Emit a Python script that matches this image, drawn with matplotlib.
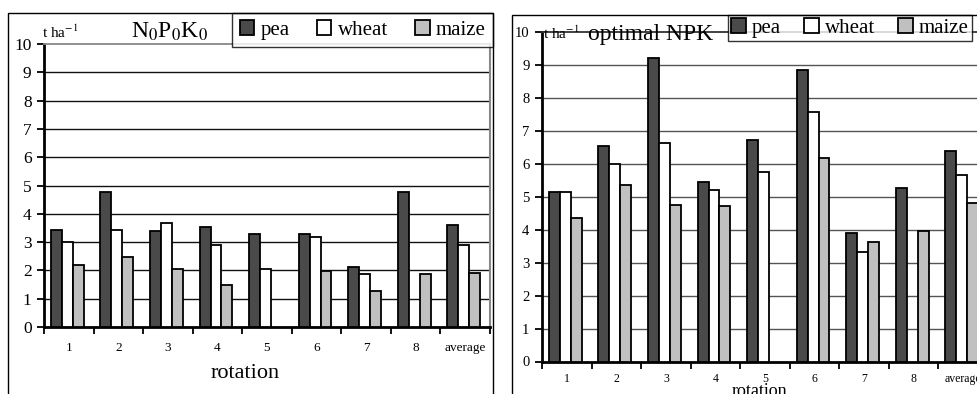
import numpy as np
import matplotlib
matplotlib.use("Agg")
import matplotlib.pyplot as plt
from matplotlib.patches import Rectangle

plt.rcParams['font.family'] = ['Liberation Serif', 'DejaVu Serif']
plt.rcParams['mathtext.fontset'] = 'stix'

rotations = ['1', '2', '3', '4', '5', '6', '7', '8', 'average']
crops = ['pea', 'wheat', 'maize']
colors = ['#4a4a4a', '#ffffff', '#c0c0c0']

# N0P0K0 yields, t/ha (nan = no bar)
pea_0 = [3.44, 4.77, 3.40, 3.55, 3.30, 3.30, 2.11, 4.77, 3.59]
wheat_0 = [3.00, 3.41, 3.67, 2.91, 2.04, 3.18, 1.87, np.nan, 2.88]
maize_0 = [2.19, 2.49, 2.05, 1.50, np.nan, 1.99, 1.28, 1.87, 1.92]

# optimal NPK yields, t/ha
pea_opt = [5.15, 6.53, 9.20, 5.46, 6.73, 8.84, 3.89, 5.27, 6.39]
wheat_opt = [5.15, 5.98, 6.64, 5.20, 5.74, 7.58, 3.33, np.nan, 5.66]
maize_opt = [4.37, 5.35, 4.74, 4.71, np.nan, 6.17, 3.64, 3.96, 4.82]

W, H = 978, 394
fig = plt.figure(figsize=(W / 100, H / 100), dpi=100)


def box(x0, y0, x1, y1):
    # pixel box -> figure fraction [left, bottom, width, height]
    return [x0 / W, 1 - y1 / H, (x1 - x0) / W, (y1 - y0) / H]


def draw_panel(ax, series, grid_col, top_col, ytick_size, xtick_size, xpad):
    offs = [0.25, 0.47, 0.69]
    idx = np.arange(len(rotations))
    for vals, col, off, name in zip(series, colors, offs, crops):
        ax.bar(idx + off, vals, width=0.22, color=col, edgecolor='black',
               linewidth=1.3, label=name, zorder=3)
    ax.set_xlim(0, len(rotations))
    ax.set_ylim(0, 10)
    ax.set_yticks(range(0, 11))
    ax.set_xticks(range(0, len(rotations) + 1))
    ax.set_xticklabels([])
    ax.set_xticks(idx + 0.5, minor=True)
    ax.set_xticklabels(rotations, minor=True, fontsize=xtick_size)
    ax.tick_params(axis='x', which='minor', length=0, pad=xpad)
    ax.tick_params(axis='x', which='major', length=5, width=1.3, direction='out')
    ax.tick_params(axis='y', length=5, width=1.3, direction='out',
                   labelsize=ytick_size, pad=4)
    for y in range(1, 10):
        ax.axhline(y, color=grid_col, lw=1.0, zorder=1)
    ax.spines['left'].set_linewidth(2)
    ax.spines['bottom'].set_linewidth(2)
    ax.spines['top'].set_color(top_col)
    ax.spines['top'].set_linewidth(1.3)
    ax.spines['right'].set_color('#888888')
    ax.spines['right'].set_linewidth(1.5)
    ax.patch.set_alpha(0)


# panel frames
fig.patches.append(Rectangle((8 / W, -0.1), (493 - 8) / W, 1.1 - 13 / H,
                             transform=fig.transFigure, fill=False,
                             edgecolor='black', lw=1))
fig.patches.append(Rectangle((512 / W, -0.1), 0.6, 1.1 - 15 / H,
                             transform=fig.transFigure, fill=False,
                             edgecolor='black', lw=1))

leg_kw = dict(ncol=3, fontsize=15, frameon=True, fancybox=False,
              edgecolor='black', handlelength=0.7, handleheight=0.7,
              handletextpad=0.3, borderaxespad=0,
              bbox_transform=fig.transFigure)

# left panel
ax1 = fig.add_axes(box(44, 44, 490, 327))
draw_panel(ax1, [pea_0, wheat_0, maize_0], '#111111', '#888888', 12.5, 9.5, 11)
fig.text(245 / W, 1 - 373 / H, 'rotation', fontsize=16, ha='center', va='center')
fig.text(42 / W, 1 - 32 / H, r't ha$^{-1}$', fontsize=11, ha='left', va='center')
fig.text(170 / W, 1 - 32 / H, r'N$_0$P$_0$K$_0$', fontsize=17, ha='center', va='center')
leg1 = ax1.legend(loc='upper right', bbox_to_anchor=(493 / W, 1 - 13 / H),
                  borderpad=0.35, columnspacing=1.3, **leg_kw)
leg1.get_frame().set_linewidth(1)
leg1.set_zorder(5)

# right panel
ax2 = fig.add_axes(box(542, 32, 988, 361.5))
draw_panel(ax2, [pea_opt, wheat_opt, maize_opt], '#555555', '#333333', 10.5, 8.5, 8)
fig.text(732 / W, 1 - 383 / H, 'rotation', fontsize=13, ha='left', va='top')
fig.text(543 / W, 1 - 33 / H, r't ha$^{-1}$', fontsize=11, ha='left', va='center')
fig.text(651 / W, 1 - 40 / H, 'optimal NPK', fontsize=17, ha='center', va='baseline')
leg2 = ax2.legend(loc='upper left', bbox_to_anchor=(728 / W, 1 - 15 / H),
                  borderpad=0.15, columnspacing=1.1, **leg_kw)
leg2.get_frame().set_linewidth(1)
leg2.set_zorder(5)

fig.savefig('out.png', dpi=100)
